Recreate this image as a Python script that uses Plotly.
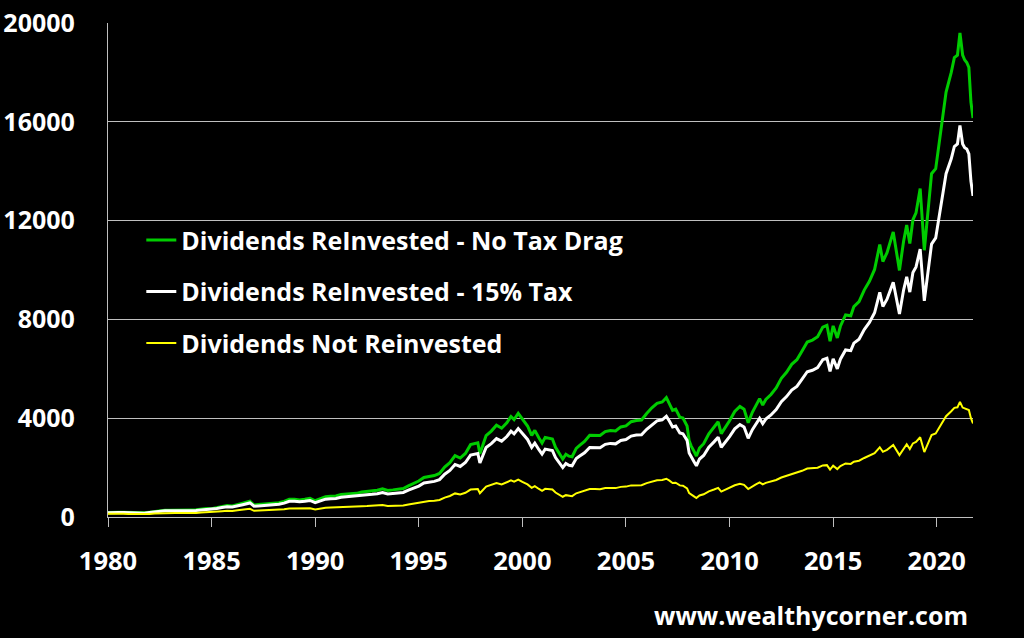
import plotly.graph_objects as go

# Visual x positions (decimal years) as drawn on the reference axis
years = [
    1980.0, 1980.25, 1980.5, 1980.75, 1981.0, 1981.25, 1981.5, 1981.75, 1982.0, 1982.25,
    1982.5, 1982.75, 1983.0, 1983.25, 1983.5, 1983.75, 1984.0, 1984.25, 1984.5, 1984.75,
    1985.0, 1985.25, 1985.5, 1985.75, 1986.0, 1986.25, 1986.5, 1986.85, 1987.05, 1987.25,
    1987.5, 1987.75, 1988.0, 1988.25, 1988.5, 1988.75, 1989.0, 1989.25, 1989.5, 1989.75,
    1990.0, 1990.25, 1990.5, 1990.75, 1991.0, 1991.25, 1991.5, 1991.75, 1992.0, 1992.25,
    1992.5, 1992.75, 1993.0, 1993.25, 1993.5, 1993.75, 1994.0, 1994.25, 1994.5, 1994.75,
    1995.0, 1995.25, 1995.5, 1995.75, 1996.0, 1996.25, 1996.5, 1996.75, 1997.0, 1997.25,
    1997.5, 1997.85, 1997.95, 1998.25, 1998.5, 1998.75, 1999.0, 1999.25, 1999.45, 1999.6, 1999.8,
    2000.0, 2000.25, 2000.45, 2000.6, 2000.8, 2000.95, 2001.1, 2001.25, 2001.45, 2001.6,
    2001.75, 2001.95, 2002.1, 2002.25, 2002.4, 2002.6, 2002.75, 2003.0, 2003.25, 2003.5,
    2003.75, 2004.0, 2004.25, 2004.5, 2004.75,
    2005.0, 2005.25, 2005.5, 2005.75, 2006.0, 2006.25, 2006.5, 2006.75, 2006.95, 2007.1,
    2007.25, 2007.4, 2007.6, 2007.75, 2007.95, 2008.05, 2008.15, 2008.3, 2008.4, 2008.55,
    2008.75, 2009.0, 2009.25, 2009.45, 2009.6, 2009.8,
    2010.0, 2010.25, 2010.5, 2010.7, 2010.9, 2011.1, 2011.25, 2011.45, 2011.6, 2011.75,
    2012.0, 2012.25, 2012.5, 2012.75, 2013.0, 2013.25, 2013.5, 2013.75, 2014.0, 2014.25,
    2014.5, 2014.7, 2014.85,
    2015.0, 2015.2, 2015.35, 2015.6, 2015.85, 2016.0, 2016.25, 2016.5, 2016.75, 2017.0,
    2017.25, 2017.4, 2017.6, 2017.9, 2018.2, 2018.4, 2018.55, 2018.7, 2018.85, 2019.0,
    2019.2, 2019.4,
    2019.55, 2019.75, 2019.95, 2020.1, 2020.3, 2020.45, 2020.7, 2020.85, 2021.0, 2021.12,
    2021.25, 2021.35, 2021.45, 2021.55, 2021.65, 2021.75,
]

reinvested_no_tax = [
    186, 200, 196, 192, 185, 181, 174, 168, 194, 225,
    247, 276, 276, 275, 268, 262, 287, 292, 318, 341,
    335, 384, 431, 463, 449, 517, 556, 637, 486, 503,
    517, 542, 553, 578, 634, 714, 718, 692, 719, 759,
    658, 744, 819, 837, 855, 913, 936, 955, 957, 1011,
    1035, 1054, 1086, 1144, 1078, 1098, 1118, 1150, 1257, 1353,
    1455, 1599, 1643, 1678, 1764, 2020, 2196, 2481, 2387, 2573,
    2930, 3006, 2558, 3296, 3478, 3718, 3596, 3817, 4069, 3944, 4200,
    3948, 3684, 3304, 3508, 3195, 2991, 3224, 3204, 3157, 2822,
    2603, 2350, 2542, 2462, 2439, 2778, 2886, 3058, 3306, 3315,
    3298, 3459, 3504, 3484, 3647,
    3690, 3859, 3909, 3928, 4192, 4422, 4604, 4658, 4831, 4595,
    4320, 4370, 4040, 4004, 3685, 3081, 2870, 2638, 2467, 2795,
    2967, 3370, 3629, 3855, 3374, 3617,
    3894, 4271, 4478, 4367, 3818, 4240, 4467, 4791, 4533, 4757,
    4959, 5227, 5616, 5861, 6180, 6367, 6721, 7085, 7163, 7296,
    7687, 7760, 7117,
    7738, 7250, 7723, 8181, 8149, 8519, 8716, 9187, 9544, 10023,
    11027, 10344, 10703, 11539, 9984, 11163, 11818, 11069, 12033, 12312,
    13300, 10800,
    12100, 13900, 14100, 15000, 16100, 17200, 18000, 18600, 18700, 19600,
    18700, 18500, 18400, 18200, 16800, 16150,
]

reinvested_15_tax = [
    174, 187, 183, 179, 172, 168, 161, 155, 179, 207,
    226, 253, 252, 251, 244, 238, 260, 264, 287, 307,
    301, 345, 387, 416, 402, 463, 498, 569, 434, 449,
    461, 483, 492, 514, 563, 633, 636, 613, 636, 671,
    581, 656, 722, 736, 751, 801, 820, 835, 836, 881,
    901, 917, 943, 992, 934, 950, 966, 993, 1084, 1165,
    1251, 1374, 1412, 1441, 1514, 1733, 1884, 2127, 2046, 2204,
    2509, 2571, 2188, 2817, 2971, 3175, 3070, 3258, 3472, 3363, 3582,
    3365, 3140, 2815, 2990, 2723, 2548, 2747, 2729, 2688, 2404,
    2216, 2001, 2165, 2096, 2075, 2365, 2457, 2602, 2813, 2820,
    2806, 2941, 2980, 2962, 3100,
    3137, 3277, 3317, 3330, 3551, 3742, 3893, 3935, 4080, 3878,
    3644, 3685, 3404, 3372, 3102, 2592, 2414, 2218, 2074, 2348,
    2491, 2827, 3042, 3230, 2825, 3027,
    3257, 3570, 3741, 3647, 3187, 3538, 3726, 3994, 3778, 3963,
    4130, 4350, 4672, 4874, 5136, 5289, 5580, 5880, 5942, 6049,
    6370, 6428, 5894,
    6406, 5999, 6390, 6765, 6736, 7039, 7200, 7586, 7877, 8269,
    9091, 8527, 8820, 9503, 8220, 9186, 9724, 9105, 9897, 10123,
    10850, 8750,
    9800, 11050, 11300, 12100, 13000, 13900, 14500, 15000, 15100, 15850,
    15100, 14950, 14900, 14700, 13600, 13000,
]

not_reinvested = [
    128, 136, 132, 128, 122, 118, 112, 107, 122, 140,
    152, 168, 166, 164, 158, 153, 166, 167, 180, 191,
    186, 211, 235, 250, 240, 274, 292, 330, 250, 257,
    262, 272, 275, 285, 310, 346, 345, 330, 340, 356,
    306, 343, 375, 380, 385, 408, 415, 420, 418, 438,
    445, 450, 460, 481, 450, 455, 460, 470, 510, 545,
    582, 636, 650, 660, 690, 786, 850, 955, 914, 980,
    1110, 1130, 960, 1229, 1290, 1372, 1320, 1394, 1480, 1430, 1517,
    1420, 1320, 1180, 1250, 1135, 1060, 1140, 1130, 1110, 990,
    911, 820, 885, 855, 845, 960, 995, 1050, 1131, 1130,
    1120, 1170, 1181, 1170, 1220,
    1230, 1280, 1290, 1290, 1370, 1438, 1490, 1500, 1550, 1470,
    1378, 1390, 1280, 1265, 1160, 968, 900, 825, 770, 870,
    920, 1040, 1115, 1180, 1030, 1100,
    1180, 1286, 1340, 1300, 1131, 1250, 1312, 1400, 1320, 1380,
    1430, 1498, 1600, 1660, 1740, 1782, 1870, 1960, 1970, 1995,
    2090, 2100, 1920,
    2080, 1940, 2060, 2170, 2150, 2240, 2280, 2390, 2470, 2580,
    2823, 2640, 2720, 2914, 2506, 2790, 2945, 2750, 2980, 3040,
    3230, 2630,
    2910, 3320, 3380, 3600, 3850, 4080, 4280, 4420, 4440, 4660,
    4430, 4390, 4370, 4330, 4000, 3790,
]

series_names = [
    "Dividends ReInvested - No Tax Drag",
    "Dividends ReInvested - 15% Tax",
    "Dividends Not Reinvested",
]
x_ticks = [1980, 1985, 1990, 1995, 2000, 2005, 2010, 2015, 2020]
y_ticks = [0, 4000, 8000, 12000, 16000, 20000]

FONT = "Open Sans"
GRID = "#bfbfbf"

fig = go.Figure()
fig.add_trace(go.Scatter(x=years, y=reinvested_no_tax, mode="lines", name=series_names[0],
                         legendgroup="a", line=dict(color="#00cc00", width=3)))
fig.add_trace(go.Scatter(x=years, y=reinvested_15_tax, mode="lines", name=series_names[1],
                         legendgroup="b", line=dict(color="#ffffff", width=3)))
fig.add_trace(go.Scatter(x=years, y=not_reinvested, mode="lines", name=series_names[2],
                         legendgroup="c", line=dict(color="#ffff00", width=2)))

fig.update_layout(
    width=1024, height=638,
    paper_bgcolor="#000000", plot_bgcolor="#000000",
    margin=dict(l=108, r=51, t=23, b=121),
    font=dict(family=FONT, color="#ffffff", size=25, weight=700),
    showlegend=True,
    legend=dict(x=0.0385, y=0.607, xanchor="left", yanchor="top",
                bgcolor="rgba(0,0,0,0)", font=dict(family=FONT, size=25, color="#ffffff", weight=700),
                tracegroupgap=16, itemwidth=30, traceorder="grouped"),
    xaxis=dict(range=[1980, 2021.75], tickmode="array", tickvals=x_ticks,
               ticktext=[str(v) for v in x_ticks], showgrid=False, zeroline=False,
               showline=True, linecolor=GRID, linewidth=1.3, automargin=False,
               ticks="outside", ticklen=9, tickwidth=1.3, tickcolor=GRID,
               ticklabelstandoff=12,
               tickfont=dict(family=FONT, size=25.5, color="#ffffff", weight=700)),
    yaxis=dict(range=[0, 20000], tickmode="array", tickvals=y_ticks,
               ticktext=[str(v) for v in y_ticks], showgrid=True, gridcolor=GRID,
               gridwidth=1.3, zeroline=False, showline=True, linecolor=GRID, linewidth=1.3,
               automargin=False, ticks="", ticklabelstandoff=27,
               tickfont=dict(family=FONT, size=25, color="#ffffff", weight=700)),
    annotations=[dict(text="www.wealthycorner.com", xref="paper", yref="paper",
                      x=0.996, y=-0.198, xanchor="right", yanchor="middle", showarrow=False,
                      font=dict(family=FONT, size=25, color="#ffffff", weight=700))],
)

fig.write_html("out.html", config={"displayModeBar": False},
               post_script="document.body.style.margin='0';document.body.style.background='#000';")
